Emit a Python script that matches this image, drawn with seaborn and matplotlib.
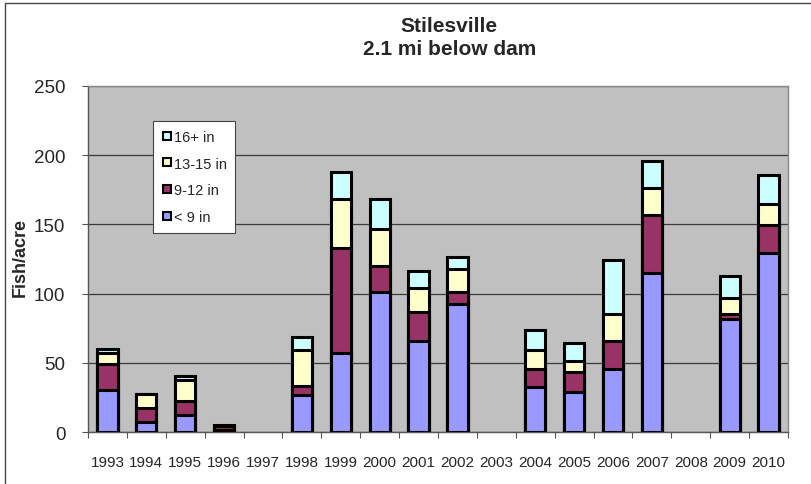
import numpy as np
import pandas as pd
import matplotlib
matplotlib.use('Agg')
import matplotlib.pyplot as plt
from matplotlib.lines import Line2D
from matplotlib.patches import Rectangle
import seaborn as sns

# --- dados (peixes/acre por classe de tamanho) ---
anos = ['1993', '1994', '1995', '1996', '1997', '1998', '1999', '2000', '2001',
        '2002', '2003', '2004', '2005', '2006', '2007', '2008', '2009', '2010']
menor_9 = [30, 7, 12.5, 1.5, np.nan, 27, 57, 101, 66, 92.5, np.nan, 32.5, 29, 45.5, 115, np.nan, 82, 129.5]
de_9_12 = [19, 10, 10, 2.5, np.nan, 6, 76, 19, 21, 8.5, np.nan, 13, 14, 20, 41.5, np.nan, 3, 20]
de_13_15 = [8, 10.5, 15, 0.5, np.nan, 26, 35, 27, 17, 17, np.nan, 14, 8, 20, 20, np.nan, 12, 15]
mais_16 = [3, 0, 3, 0.5, np.nan, 10, 20, 21, 12, 8.5, np.nan, 14, 13.5, 38.5, 19, np.nan, 15.5, 21]

classes = ['< 9 in', '9-12 in', '13-15 in', '16+ in']
cores = ['#9999FF', '#993366', '#FFFFCC', '#CCFFFF']

df = pd.DataFrame({'ano': anos, '< 9 in': menor_9, '9-12 in': de_9_12,
                   '13-15 in': de_13_15, '16+ in': mais_16})
# soma acumulada para empilhar (desenha do maior para o menor)
acum = df[classes].cumsum(axis=1)

sns.set_style('white')
plt.rcParams['font.family'] = ['Liberation Sans', 'DejaVu Sans']

fig = plt.figure(figsize=(8.11, 4.85), dpi=100)
ax = fig.add_axes([88 / 811, 1 - 433 / 485, 700 / 811, 346 / 485])
ax.set_facecolor('#C0C0C0')

for classe, cor in zip(classes[::-1], cores[::-1]):
    sns.barplot(x=df['ano'], y=acum[classe], order=anos, color=cor, width=0.52,
                edgecolor='black', linewidth=2.2, saturation=1, ax=ax, zorder=3)

ax.set_ylim(0, 250)
ax.set_xlim(-0.5, len(anos) - 0.5)
ax.set_yticks(range(0, 251, 50))
ax.yaxis.grid(True, color='#3a3a3a', linewidth=0.9, zorder=0)
ax.set_axisbelow(True)
ax.tick_params(axis='y', labelsize=13.5, length=4.3, width=0.8, color='#555555', pad=12, left=True)
ax.tick_params(axis='x', which='major', length=0, labelsize=11, pad=16.5)
ax.set_xticks(np.arange(len(anos) + 1) - 0.5, minor=True)
ax.tick_params(axis='x', which='minor', length=4, width=0.8, color='#555555', bottom=True)
ax.set_xlabel('')
ax.set_ylabel('Fish/acre', fontsize=13, fontweight='bold')
ax.yaxis.set_label_coords((28.5 - 88) / 700, (433 - 258) / 346)

for lado in ['top', 'right']:
    ax.spines[lado].set_color('#888888')
    ax.spines[lado].set_linewidth(1)
for lado in ['left', 'bottom']:
    ax.spines[lado].set_color('#555555')
    ax.spines[lado].set_linewidth(1)

# legenda com marcadores quadrados
handles = [Line2D([], [], marker='s', linestyle='none', markersize=6,
                  markerfacecolor=c, markeredgecolor='black', markeredgewidth=1.5)
           for c in cores[::-1]]
leg = ax.legend(handles, classes[::-1], loc='upper left', bbox_to_anchor=(0.093, 0.899),
                frameon=True, fancybox=False, framealpha=1, edgecolor='#444444',
                fontsize=10.5, handletextpad=0.05, handlelength=0.75, labelspacing=0.88,
                borderpad=0.6, borderaxespad=0)
leg.get_frame().set_linewidth(0.8)

fig.text(449 / 811, 1 - 31.7 / 485, 'Stilesville', ha='center', va='baseline',
         fontsize=15, fontweight='bold')
fig.text(450 / 811, 1 - 55 / 485, '2.1 mi below dam', ha='center', va='baseline',
         fontsize=15, fontweight='bold')

# moldura externa do grafico
fig.patches.append(Rectangle((5 / 811, -0.05), 1.2, 1.05 - 4 / 485, transform=fig.transFigure,
                             fill=False, edgecolor='#444444', linewidth=1))

plt.savefig('out.png', dpi=100)
